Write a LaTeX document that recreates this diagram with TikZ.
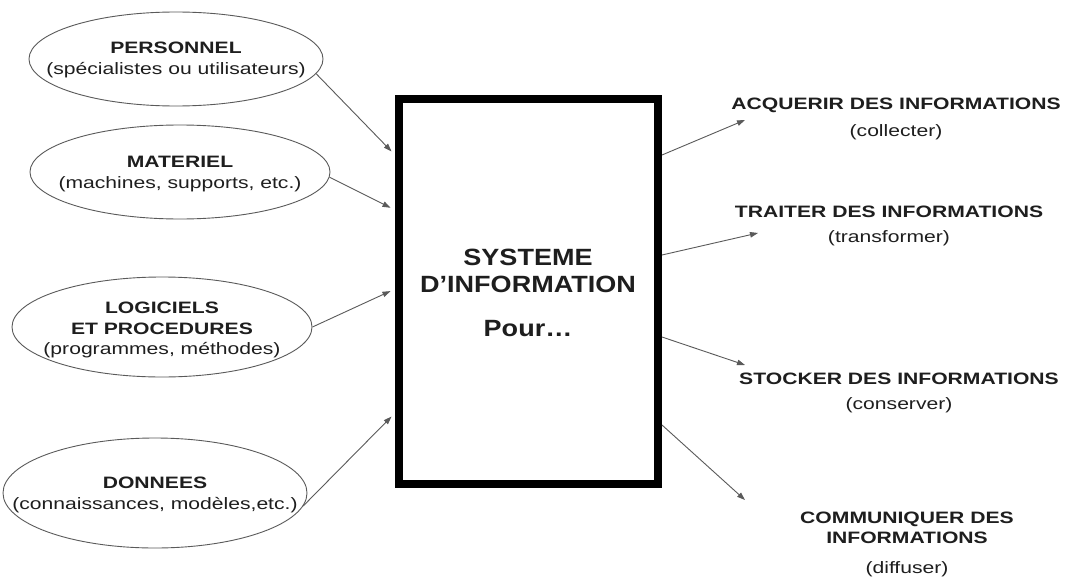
\documentclass[tikz,border=0pt]{standalone}
\usepackage{fontspec}
\setmainfont{Liberation Sans}
\newfontfamily\lblfont[FakeStretch=1.28]{Liberation Sans}
\newfontfamily\boxfont[FakeStretch=1.15]{Liberation Sans}
\usetikzlibrary{shapes.geometric,arrows.meta}

\definecolor{ink}{HTML}{1E1E1E}
\definecolor{wire}{HTML}{5A5A5A}

\tikzset{
  oval/.style={ellipse, draw=wire, line width=0.9pt, inner sep=0pt},
  lbl/.style={align=center, text=ink, inner sep=0pt,
    font=\lblfont\fontsize{16.5}{20.5}\selectfont},
  outlbl/.style={lbl},
  sysbox/.style={rectangle, draw=black, line width=8pt, inner sep=0pt,
    minimum width=259pt, minimum height=385pt},
  systxt/.style={anchor=base, text=ink, inner sep=0pt,
    font=\boxfont\bfseries\fontsize{23.5}{27}\selectfont},
  conn/.style={draw=wire, line width=0.9pt,
    -{Triangle[length=8pt,width=5.5pt]}},
}

\begin{document}
\begin{tikzpicture}[x=1pt,y=-1pt]
\useasboundingbox[fill=white] (0,0) rectangle (1067,578);

% central system box
\node[sysbox] (box) at (528.5,291.5) {};
\node[systxt] (sys1) at (528,265.5) {SYSTEME};
\node[systxt] (sys2) at (528,292.5) {D’INFORMATION};
\node[systxt] (sys3) at (528,336.5) {Pour…};

% resources (inputs)
\node[oval, minimum width=294pt, minimum height=94pt]  (res1) at (176,59) {};
\node[lbl] (res1t) at (176,60) {\bfseries PERSONNEL\\(spécialistes ou utilisateurs)};

\node[oval, minimum width=300pt, minimum height=94pt]  (res2) at (180,172) {};
\node[lbl] (res2t) at (180,174) {\bfseries MATERIEL\\(machines, supports, etc.)};

\node[oval, minimum width=300pt, minimum height=100pt] (res3) at (162,327) {};
\node[lbl] (res3t) at (162,330) {\bfseries LOGICIELS\\\bfseries ET PROCEDURES\\(programmes, méthodes)};

\node[oval, minimum width=304pt, minimum height=110pt] (res4) at (155,493) {};
\node[lbl] (res4t) at (155,495) {\bfseries DONNEES\\(connaissances, modèles,etc.)};

\draw[conn, shorten >=5pt] (res1.-6) -- (box.west |- 0,155);
\draw[conn, shorten >=5pt] (res2.-2) -- (box.west |- 0,210);
\draw[conn, shorten >=5pt] (res3.east) -- (box.west |- 0,289);
\draw[conn, shorten >=5pt] (res4.-5) -- (box.west |- 0,413);

% functions (outputs)
\coordinate (f1) at (745,120);
\coordinate (f2) at (758,233);
\coordinate (f3) at (745,365);
\coordinate (f4) at (745,500);

\draw[conn] (box.east |- 0,155) -- (f1);
\draw[conn] (box.east |- 0,255) -- (f2);
\draw[conn] (box.east |- 0,337) -- (f3);
\draw[conn] (box.east |- 0,425) -- (f4);

\node[outlbl] (out1) at (896,119) {\bfseries ACQUERIR DES INFORMATIONS\\[6pt](collecter)};
\node[outlbl] (out2) at (889,226) {\bfseries TRAITER DES INFORMATIONS\\[4pt](transformer)};
\node[outlbl] (out3) at (899,393) {\bfseries STOCKER DES INFORMATIONS\\[5pt](conserver)};
\node[outlbl] (out4) at (907,544) {\bfseries COMMUNIQUER DES\\\bfseries INFORMATIONS\\[9pt](diffuser)};
\end{tikzpicture}
\end{document}
